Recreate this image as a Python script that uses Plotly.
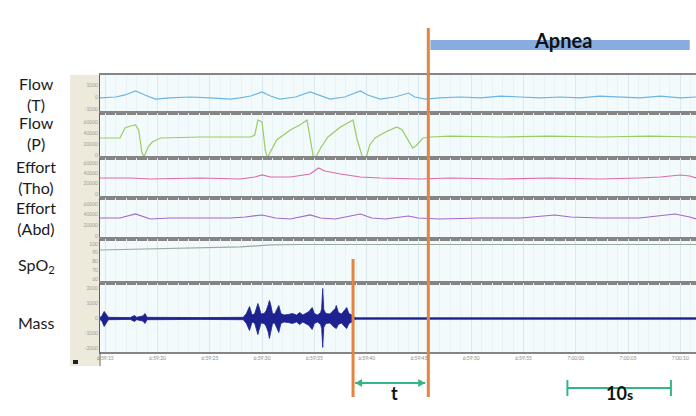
import plotly.graph_objects as go
from plotly.subplots import make_subplots

# ---------------- data (time in seconds after 6:59:15) ----------------
flow_t_time = [-0.5, 1.0, 1.9, 2.9, 3.8, 4.8, 6.2, 8.1, 10.0, 12.0, 12.9, 13.9, 15.0, 15.8, 16.7, 18.2,
               19.6, 20.4, 21.5, 22.9, 24.4, 25.1, 26.3, 27.7, 29.0, 29.6, 30.6, 32.0, 33.9, 35.9, 37.8,
               39.7, 41.6, 43.5, 45.4, 47.3, 49.2, 51.1, 53.1, 55.0, 56.5]
flow_t_vals = [-80, 0, 170, 500, 170, -170, -80, 0, -80, -170, -80, 80, 420, 80, -170, 0,
               420, 170, -170, 0, 500, 170, -170, 0, 330, 0, -170, -80, 0, -80, 80,
               0, -80, 0, -80, 80, 0, -80, 80, -80, 0]

flow_p_time = [-0.5, 1.4, 1.9, 2.4, 2.9, 3.2, 3.5, 3.7, 4.1, 4.5, 5.3, 9.1, 12.0, 13.9, 14.3, 14.6,
               15.0, 15.3, 15.5, 16.0, 16.4, 17.7, 18.6, 19.3, 19.6, 19.9, 20.2, 20.6, 21.3, 22.5,
               23.7, 24.1, 24.6, 25.0, 25.3, 25.8, 26.8, 27.9, 28.4, 29.0, 29.4, 29.7, 30.4, 31.1,
               33.0, 37.8, 42.5, 47.3, 52.1, 56.5]
flow_p_vals = [30900, 30900, 49100, 52700, 54500, 45500, 5500, -3600, 14500, 23600, 30900, 32700,
               32700, 32700, 36400, 63600, 60000, 9100, -5000, 12700, 27300, 45500, 54500, 63600,
               27300, -3600, -1800, 12700, 32700, 50900, 63600, 27300, -3600, -1800, 18200, 30900,
               41800, 50900, 45500, 27300, 12700, 16400, 30900, 32700, 34500, 32700, 34500, 32700,
               34500, 32700]

tho_time = [-0.5, 2.4, 4.3, 9.1, 12.9, 14.3, 15.0, 15.8, 17.7, 19.6, 20.4, 21.0, 22.5, 24.4, 26.3,
            30.1, 33.0, 37.8, 42.5, 47.3, 51.1, 53.1, 55.0, 55.9, 56.5]
tho_vals = [31000, 31000, 29000, 31000, 29000, 32900, 36800, 32900, 32900, 38700, 50300, 44500,
            38700, 32900, 31000, 29000, 31000, 29000, 31000, 29000, 31000, 32900, 36800, 34800, 31000]

abd_time = [-0.5, 1.4, 2.9, 4.3, 6.2, 9.1, 12.0, 13.4, 15.0, 16.3, 17.7, 19.6, 20.6, 22.0, 24.4,
            25.5, 26.8, 29.0, 29.9, 32.0, 35.9, 39.7, 41.6, 43.0, 44.5, 47.3, 51.1, 53.1, 54.5,
            55.9, 56.5]
abd_vals = [33750, 33750, 41250, 31900, 33750, 33750, 33750, 35600, 39400, 33750, 31900, 39400,
            33750, 31900, 41250, 33750, 31900, 37500, 33750, 31900, 33750, 33750, 37500, 39400,
            35600, 33750, 33750, 37500, 41250, 35600, 31900]

spo2_time = [-0.5, 4.3, 9.1, 12.9, 15.8, 18.6, 28.2, 37.8, 47.3, 56.5]
spo2_vals = [93.1, 94.3, 95.4, 96.6, 98.9, 99.4, 99.4, 99.4, 99.4, 99.4]

mass_time = [-0.5, -0.3, -0.1, 0.1, 0.3, 2.4, 2.8, 3.0, 3.6, 3.8, 4.0, 9.1, 13.2, 13.5, 13.7, 13.8,
             14.0, 14.1, 14.3, 14.5, 14.6, 14.7, 14.9, 15.2, 15.4, 15.6, 15.7, 15.8, 16.0, 16.2,
             16.3, 16.5, 16.6, 16.8, 17.1, 17.5, 17.9, 18.3, 18.6, 18.9, 19.2, 19.5, 19.7, 19.8,
             20.0, 20.3, 20.6, 20.7, 20.8, 20.9, 21.1, 21.5, 21.8, 22.0, 22.1, 22.3, 22.6, 22.8,
             23.0, 23.1, 23.3, 23.6, 23.8, 24.0, 56.5]
mass_upper = [60, 200, 470, 300, 80, 60, 200, 80, 170, 330, 80, 60, 80, 330, 670, 800,
              330, 230, 330, 730, 1000, 800, 300, 330, 530, 930, 1200, 1000, 330, 300,
              470, 730, 870, 330, 230, 270, 330, 230, 400, 230, 330, 470, 670, 730,
              330, 230, 400, 670, 2000, 600, 330, 300, 530, 670, 870, 400, 300, 470,
              600, 730, 330, 230, 100, 50, 50]
mass_lower = [-60, -200, -530, -300, -80, -60, -200, -80, -170, -330, -80, -60, -80, -330,
              -730, -800, -330, -230, -330, -730, -1070, -800, -300, -330, -530, -930, -1330,
              -1000, -330, -300, -470, -730, -930, -330, -230, -270, -330, -230, -400, -230,
              -330, -470, -670, -730, -330, -230, -400, -670, -1930, -600, -330, -300, -530,
              -670, -670, -400, -300, -470, -600, -670, -330, -230, -100, -50, -50]

time_tick_vals = [0, 5, 10, 15, 20, 25, 30, 35, 40, 45, 50, 55]
time_tick_text = ["6:59:15", "6:59:20", "6:59:25", "6:59:30", "6:59:35", "6:59:40", "6:59:45",
                  "6:59:50", "6:59:55", "7:00:00", "7:00:05", "7:00:10"]

channel_labels = ["Flow<br>(T)", "Flow<br>(P)", "Effort<br>(Tho)", "Effort<br>(Abd)",
                  "SpO<sub>2</sub>", "Mass"]

apnea_start = 30.9      # s, onset of apnea (tall marker)
event_time = 23.7       # s, end of mass activity (short marker)
apnea_bar = [31.1, 55.9]
t_arrow = [23.9, 30.6]
scale_bar = [44.2, 54.1]

# ---------------- figure ----------------
PLOT_TOP, PLOT_BOTTOM, PLOT_LEFT, PLOT_RIGHT = 75, 352, 100, 696   # page pixels
W, Hfig = 696, 416
row_h = [38, 45, 40, 41, 44, 69]
fig = make_subplots(rows=6, cols=1, shared_xaxes=True, vertical_spacing=0, row_heights=row_h)

def line(x, y, color, row, w=1.2):
    fig.add_trace(go.Scatter(x=x, y=y, mode="lines", line=dict(color=color, width=w),
                             hoverinfo="skip"), row=row, col=1)

line(flow_t_time, flow_t_vals, "#6cb5e2", 1)
line(flow_p_time, flow_p_vals, "#98cd62", 2)
line(tho_time, tho_vals, "#e06aa6", 3)
line(abd_time, abd_vals, "#a368c9", 4)
line(spo2_time, spo2_vals, "#9aab9e", 5)
navy = "#1d2290"
fig.add_trace(go.Scatter(x=mass_time, y=mass_lower, mode="lines", line=dict(color=navy, width=0.8),
                         hoverinfo="skip"), row=6, col=1)
fig.add_trace(go.Scatter(x=mass_time, y=mass_upper, mode="lines", line=dict(color=navy, width=0.8),
                         fill="tonexty", fillcolor=navy, hoverinfo="skip"), row=6, col=1)

fig.update_xaxes(range=[-0.5, 56.5], tickvals=time_tick_vals, ticktext=time_tick_text,
                 showticklabels=False, showgrid=True, gridcolor="#dde8ee", gridwidth=1,
                 minor=dict(dtick=1, showgrid=True, gridcolor="#eaf2f5"),
                 showline=True, mirror=True, linecolor="#858585", linewidth=2, zeroline=False,
                 ticks="", automargin=False)
fig.update_xaxes(showticklabels=True, tickfont=dict(size=5, color="#8a8a8a"), row=6, col=1)

y_specs = [
    ([-1333, 1833], [1000, 0, -1000], ["1000", "0", "-1000"]),
    ([-5454, 76364], [60000, 40000, 20000, 0], ["60000", "40000", "20000", "0"]),
    ([-7740, 69660], [60000, 40000, 20000, 0], ["60000", "40000", "20000", "0"]),
    ([-5625, 71250], [60000, 40000, 20000, 0], ["60000", "40000", "20000", "0"]),
    ([55.4, 105.7], [100, 90, 80, 70, 60], ["100", "90", "80", "70", "60"]),
    ([-2233, 2367], [2000, 1000, 0, -1000, -2000], ["2000", "1000", "0", "-1000", "-2000"]),
]
for i, (rng, tv, tt) in enumerate(y_specs, start=1):
    fig.update_yaxes(range=rng, tickvals=tv, ticktext=tt, showgrid=False, zeroline=False,
                     showline=True, linecolor="#5e5e5e", linewidth=1, ticks="",
                     tickfont=dict(size=5, color="#9a9a9a"), automargin=False, row=i, col=1)

# ---------------- geometry helpers (paper coords from page pixels) ----------------
H = PLOT_BOTTOM - PLOT_TOP
PW = PLOT_RIGHT - PLOT_LEFT
def py(p):
    return (PLOT_BOTTOM - p) / H
def px(p):
    return (p - PLOT_LEFT) / PW
sec_per_px = (56.5 - (-0.5)) / PW

shapes = []
# beige tick-label strip
shapes.append(dict(type="rect", xref="paper", yref="paper", x0=px(70), x1=px(99), y0=py(366), y1=py(75),
                   fillcolor="#eeeadb", line=dict(width=0), layer="below"))
shapes.append(dict(type="line", xref="paper", yref="paper", x0=0, x1=0, y0=py(366), y1=py(352),
                   line=dict(color="#5e5e5e", width=1)))
shapes.append(dict(type="rect", xref="paper", yref="paper", x0=px(73), x1=px(78), y0=py(364), y1=py(360),
                   fillcolor="#222", line=dict(width=0)))
# apnea bar
shapes.append(dict(type="rect", xref="x", yref="paper", x0=apnea_bar[0], x1=apnea_bar[1],
                   y0=py(50), y1=py(40), fillcolor="#87acdf", line=dict(width=0)))
# orange markers
orange = "#e5843f"
shapes.append(dict(type="line", xref="x", yref="paper", x0=apnea_start, x1=apnea_start,
                   y0=py(397), y1=py(28), line=dict(color=orange, width=3)))
shapes.append(dict(type="line", xref="x", yref="paper", x0=event_time, x1=event_time,
                   y0=py(397), y1=py(259), line=dict(color=orange, width=3)))
# green double arrow (t)
green = "#33b584"
ya = py(383)
shapes.append(dict(type="line", xref="x", yref="paper", x0=t_arrow[0], x1=t_arrow[1],
                   y0=ya, y1=ya, line=dict(color=green, width=2)))
hl, hh = 7 * sec_per_px, 4 / H
shapes.append(dict(type="path", xref="x", yref="paper",
                   path=f"M {t_arrow[0]},{ya} L {t_arrow[0] + hl},{ya + hh} L {t_arrow[0] + hl},{ya - hh} Z",
                   fillcolor=green, line=dict(width=0)))
shapes.append(dict(type="path", xref="x", yref="paper",
                   path=f"M {t_arrow[1]},{ya} L {t_arrow[1] - hl},{ya + hh} L {t_arrow[1] - hl},{ya - hh} Z",
                   fillcolor=green, line=dict(width=0)))
# 10 s scale bar
shapes.append(dict(type="line", xref="x", yref="paper", x0=scale_bar[0], x1=scale_bar[1],
                   y0=py(388), y1=py(388), line=dict(color=green, width=2)))
for xb in scale_bar:
    shapes.append(dict(type="line", xref="x", yref="paper", x0=xb, x1=xb,
                       y0=py(396), y1=py(380), line=dict(color=green, width=2)))

annotations = []
annotations.append(dict(x=27.7, y=py(406), xref="x", yref="paper", text="<b>t</b>", showarrow=False,
                        font=dict(size=18, color="#111", family="Lato")))
annotations.append(dict(x=49.2, y=py(406), xref="x", yref="paper",
                        text="<b>10<span style='font-size:14px'>s</span></b>", showarrow=False,
                        font=dict(size=18, color="#111", family="Lato")))
annotations.append(dict(x=43.8, y=py(26), xref="x", yref="paper", text="<b>Apnea</b>",
                        showarrow=False, font=dict(size=20, color="#111", family="Lato")))

# channel labels
label_y = [94, 133, 177, 218, 265, 322]
for txt, yy in zip(channel_labels, label_y):
    annotations.append(dict(x=px(36), y=py(yy), xref="paper", yref="paper", text=txt,
                            showarrow=False, xanchor="center", yanchor="middle", align="center",
                            font=dict(size=16, color="#1b1b1b", family="Lato")))

fig.update_layout(width=W, height=Hfig,
                  margin=dict(l=PLOT_LEFT, r=W - PLOT_RIGHT, t=PLOT_TOP, b=Hfig - PLOT_BOTTOM),
                  showlegend=False, paper_bgcolor="white", plot_bgcolor="#f3fafc",
                  font=dict(family="Lato"), shapes=shapes, annotations=annotations)

fig.write_html("out.html", config={"displayModeBar": False},
               post_script="document.body.style.margin='0';document.body.style.overflow='hidden';")
